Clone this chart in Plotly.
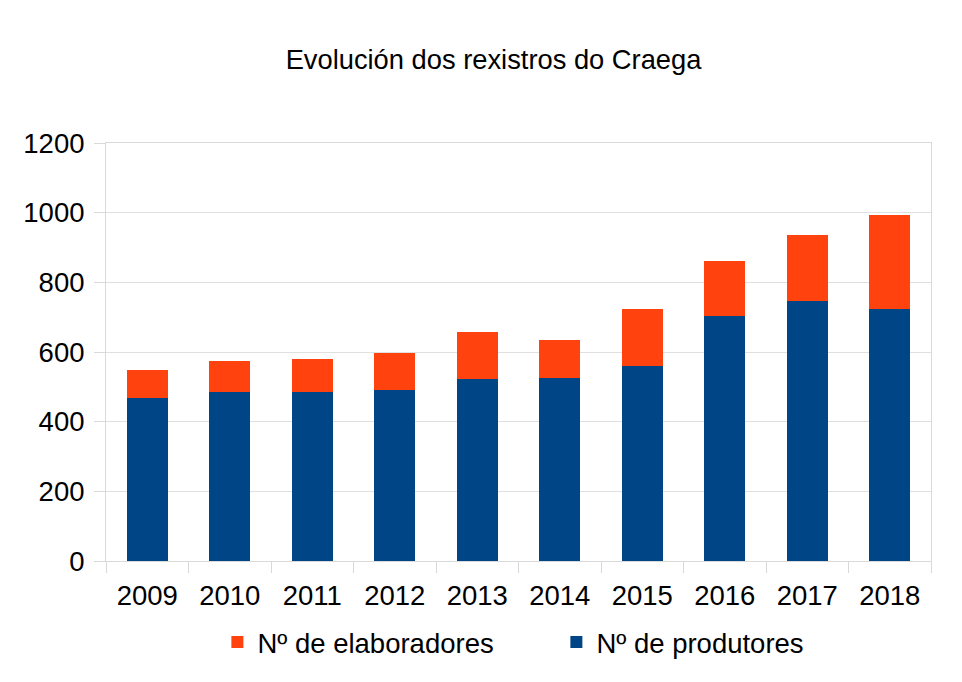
import plotly.graph_objects as go

years = ["2009", "2010", "2011", "2012", "2013", "2014", "2015", "2016", "2017", "2018"]
produtores = [468, 485, 485, 492, 523, 526, 560, 702, 747, 724]
elaboradores = [80, 89, 94, 105, 135, 109, 163, 159, 190, 268]
y_ticks = [0, 200, 400, 600, 800, 1000, 1200]

BLUE = "#004586"
ORANGE = "#ff420e"
FONT = "Liberation Sans, Arial, sans-serif"

W, H = 954, 674  # page has an 8px body offset

fig = go.Figure()
fig.add_trace(go.Bar(x=years, y=produtores, name="Nº de produtores",
                     marker=dict(color=BLUE, line=dict(width=0))))
fig.add_trace(go.Bar(x=years, y=elaboradores, name="Nº de elaboradores",
                     marker=dict(color=ORANGE, line=dict(width=0))))

fig.update_layout(
    width=W, height=H,
    barmode="stack", bargap=0.5,
    paper_bgcolor="white", plot_bgcolor="white",
    font=dict(family=FONT, color="#000000"),
    margin=dict(l=98, r=31, t=135, b=121, autoexpand=False),
    title=dict(text="Evolución dos rexistros do Craega",
               font=dict(size=27.3, family=FONT, color="#000000"),
               x=485.5 / W, xref="container", xanchor="center",
               y=1 - 51 / H, yref="container", yanchor="middle"),
    showlegend=True,
    legend=dict(orientation="h", traceorder="reversed",
                x=0.135, xanchor="left", y=-0.194, yanchor="middle",
                entrywidth=294, entrywidthmode="pixels",
                font=dict(size=27.5, family=FONT, color="#000000"),
                itemclick=False),
    xaxis=dict(type="category", showgrid=False,
               ticks="outside", tickson="boundaries", ticklen=11,
               ticklabelstandoff=10,
               tickcolor="#d9d9d9", showline=True, linecolor="#d9d9d9",
               mirror=True, tickfont=dict(size=27.5, family=FONT, color="#000000")),
    yaxis=dict(range=[0, 1200], tickvals=y_ticks, showgrid=True,
               gridcolor="#e0e0e0", gridwidth=1, zeroline=False,
               ticks="outside", ticklen=11, tickcolor="#d9d9d9",
               ticklabelstandoff=4,
               showline=True, linecolor="#d9d9d9", mirror=True,
               tickfont=dict(size=27.5, family=FONT, color="#000000")),
)

fig.write_html("out.html")
